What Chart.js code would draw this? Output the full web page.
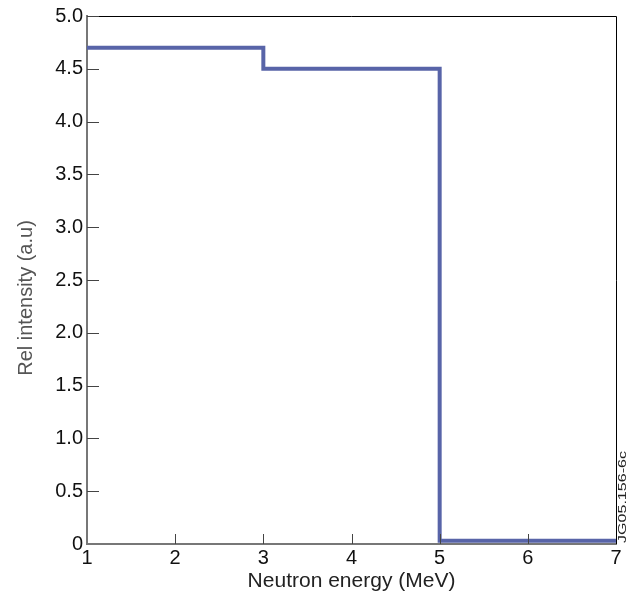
<!DOCTYPE html>
<html>
<head>
<meta charset="utf-8">
<script src="https://cdn.jsdelivr.net/npm/chart.js@4"></script>
<style>
  html, body { margin: 0; padding: 0; background: #fff; }
  #wrap { width: 634px; height: 599px; position: relative; }
</style>
</head>
<body>
<div id="wrap"><canvas id="chart" width="634" height="599"></canvas></div>
<script>
// step spectrum: value holds from each energy until the next one
const energies = [1, 3, 5, 7];
const intensity = [4.7, 4.5, 0.03, 0.03];
const xTicks = [1, 2, 3, 4, 5, 6, 7];
const yTicks = [0, 0.5, 1.0, 1.5, 2.0, 2.5, 3.0, 3.5, 4.0, 4.5, 5.0];

const fontFamily = '"Liberation Sans", Arial, sans-serif';

// inward tick marks, top/right frame, y title and side code label
const frameAndTicks = {
  id: 'frameAndTicks',
  afterDraw(chart) {
    const ctx = chart.ctx;
    const area = chart.chartArea;
    const xs = chart.scales.x;
    const ys = chart.scales.y;
    ctx.save();
    ctx.strokeStyle = '#000';
    ctx.lineWidth = 1;
    ctx.beginPath();
    ctx.moveTo(area.left, area.top + 0.5);
    ctx.lineTo(area.right + 0.5, area.top + 0.5);
    ctx.lineTo(area.right + 0.5, area.bottom);
    ctx.stroke();

    ctx.strokeStyle = '#444';
    ctx.beginPath();
    yTicks.forEach(v => {
      if (v === 0) return;
      const py = Math.round(ys.getPixelForValue(v)) + 0.5;
      ctx.moveTo(area.left, py);
      ctx.lineTo(area.left + 12, py);
    });
    xTicks.forEach(v => {
      if (v === xTicks[0] || v === xTicks[xTicks.length - 1]) return;
      const px = Math.round(xs.getPixelForValue(v)) + 0.5;
      ctx.moveTo(px, area.bottom);
      ctx.lineTo(px, area.bottom - 10);
    });
    ctx.stroke();
    ctx.restore();

    // y axis title
    ctx.save();
    ctx.fillStyle = '#555';
    ctx.font = '20px ' + fontFamily;
    ctx.translate(26, 298);
    ctx.rotate(-Math.PI / 2);
    ctx.textAlign = 'center';
    ctx.textBaseline = 'middle';
    ctx.fillText('Rel intensity (a.u)', 0, 0);
    ctx.restore();

    // figure code, stretched along its length
    ctx.save();
    ctx.fillStyle = '#222';
    ctx.font = '11px ' + fontFamily;
    const code = 'JG05.156-6c';
    const w = ctx.measureText(code).width;
    ctx.translate(623, area.bottom - 1);
    ctx.rotate(-Math.PI / 2);
    ctx.scale(92 / w, 1);
    ctx.textAlign = 'left';
    ctx.textBaseline = 'middle';
    ctx.fillText(code, 0, 0);
    ctx.restore();
  }
};

new Chart(document.getElementById('chart'), {
  type: 'line',
  data: {
    datasets: [{
      data: energies.map((e, i) => ({ x: e, y: intensity[i] })),
      stepped: 'before',
      borderColor: '#5864a8',
      borderWidth: 4,
      pointRadius: 0,
      fill: false
    }]
  },
  options: {
    responsive: false,
    animation: false,
    layout: { padding: { top: 16, right: 18, left: 0, bottom: 5 } },
    plugins: { legend: { display: false }, tooltip: { enabled: false } },
    scales: {
      x: {
        type: 'linear',
        min: 1,
        max: 7,
        afterFit(scale) { scale.height = 50; },
        afterBuildTicks(scale) { scale.ticks = xTicks.map(v => ({ value: v })); },
        grid: { display: false, drawTicks: false },
        border: { display: true, color: '#777', width: 2 },
        ticks: {
          color: '#111',
          padding: 2,
          maxRotation: 0,
          font: { family: fontFamily, size: 20 }
        },
        title: {
          display: true,
          text: 'Neutron energy (MeV)',
          color: '#222',
          padding: { top: 0, bottom: 0 },
          font: { family: fontFamily, size: 21 }
        }
      },
      y: {
        min: 0,
        max: 5,
        afterFit(scale) { scale.width = 87; },
        afterBuildTicks(scale) { scale.ticks = yTicks.map(v => ({ value: v })); },
        grid: { display: false, drawTicks: false },
        border: { display: true, color: '#777', width: 2 },
        ticks: {
          color: '#111',
          padding: 4,
          font: { family: fontFamily, size: 20 },
          callback: v => (v === 0 ? '0' : v.toFixed(1))
        },
        title: { display: false }
      }
    }
  },
  plugins: [frameAndTicks]
});
</script>
</body>
</html>
